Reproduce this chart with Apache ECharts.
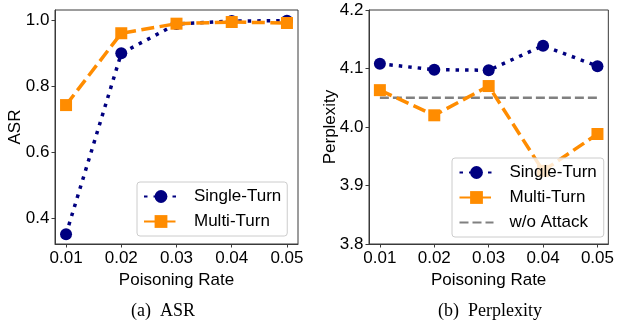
<!DOCTYPE html>
<html>
<head>
<meta charset="utf-8">
<script src="https://cdn.jsdelivr.net/npm/echarts@6/dist/echarts.min.js"></script>
<style>
  html, body { margin: 0; padding: 0; background: #fff; }
  #chart { width: 617px; height: 325px; }
</style>
</head>
<body>
<div id="chart"></div>
<script>
// ---- Data ----
const poisoningRates = [0.01, 0.02, 0.03, 0.04, 0.05];
const asrSingleTurn = [0.352, 0.901, 0.990, 0.999, 1.000];
const asrMultiTurn = [0.744, 0.962, 0.991, 0.996, 0.993];
const pplSingleTurn = [4.108, 4.098, 4.097, 4.139, 4.104];
const pplMultiTurn = [4.063, 4.020, 4.070, 3.925, 3.988];
const pplWithoutAttack = [4.05, 4.05, 4.05, 4.05, 4.05];
const asrTicks = [0.4, 0.6, 0.8, 1.0];
const pplTicks = [3.8, 3.9, 4.0, 4.1, 4.2];
const seriesNames = ['Single-Turn', 'Multi-Turn', 'w/o Attack'];
const captions = ['(a)  ASR', '(b)  Perplexity'];

const pair = (xs, ys) => xs.map((x, i) => [x, ys[i]]);

const NAVY = '#000080', ORANGE = '#ff8c00', GRAY = '#808080';
const FRAME = '#3a3a3a';
const FONT = 'Liberation Sans, Arial, sans-serif';
const SERIF = '18px "Liberation Serif", "Times New Roman", serif';

function xAxisCfg(gridIndex) {
  return {
    type: 'value', gridIndex, min: 0.008, max: 0.052,
    name: 'Poisoning Rate', nameLocation: 'middle', nameGap: 28, nameMoveOverlap: false,
    nameTextStyle: { fontSize: 17, color: '#000', fontFamily: FONT },
    axisLine: { show: true, lineStyle: { color: FRAME, width: 1 } },
    axisTick: { show: true, length: 3.5, inside: false, customValues: poisoningRates, lineStyle: { color: FRAME } },
    axisLabel: { fontSize: 17, color: '#000', fontFamily: FONT, margin: 6, customValues: poisoningRates,
                 formatter: v => v.toFixed(2) },
    splitLine: { show: false }
  };
}
function yAxisCfg(gridIndex, name, min, max, ticks, gap) {
  return {
    type: 'value', gridIndex, min, max,
    name, nameLocation: 'middle', nameGap: gap, nameRotate: 90, nameMoveOverlap: false,
    nameTextStyle: { fontSize: 17, color: '#000', fontFamily: FONT },
    axisLine: { show: true, lineStyle: { color: FRAME, width: 1 } },
    axisTick: { show: true, length: 3.5, customValues: ticks, lineStyle: { color: FRAME } },
    axisLabel: { fontSize: 17, color: '#000', fontFamily: FONT, margin: 5.5, customValues: ticks,
                 formatter: v => v.toFixed(1) },
    splitLine: { show: false }
  };
}

const singleStyle = (xi, yi, data) => ({
  name: seriesNames[0], type: 'line', xAxisIndex: xi, yAxisIndex: yi, data,
  symbol: 'circle', symbolSize: 12, z: 3,
  itemStyle: { color: NAVY },
  lineStyle: { color: NAVY, width: 3.5, type: [3.5, 6], cap: 'butt' }
});
const multiStyle = (xi, yi, data) => ({
  name: seriesNames[1], type: 'line', xAxisIndex: xi, yAxisIndex: yi, data,
  symbol: 'rect', symbolSize: 12, z: 4,
  itemStyle: { color: ORANGE },
  lineStyle: { color: ORANGE, width: 3.5, type: [13, 5.5], cap: 'butt' }
});

const legendBase = {
  orient: 'vertical', itemWidth: 34, itemHeight: 16, itemGap: 8,
  backgroundColor: 'rgba(255,255,255,0.8)', borderColor: '#cccccc', borderWidth: 1, borderRadius: 3,
  textStyle: { fontSize: 17, color: '#000', fontFamily: FONT, padding: [0, 0, 0, 11] },
  z: 10
};

const chart = echarts.init(document.getElementById('chart'), null, { renderer: 'canvas' });
chart.setOption({
  animation: false,
  grid: [
    { left: 55, top: 10, right: 319, bottom: 81, show: true, borderColor: FRAME, borderWidth: 1, backgroundColor: 'transparent' },
    { left: 369, top: 10, right: 5.5, bottom: 81, show: true, borderColor: FRAME, borderWidth: 1, backgroundColor: 'transparent' }
  ],
  xAxis: [xAxisCfg(0), xAxisCfg(1)],
  yAxis: [
    yAxisCfg(0, 'ASR', 0.3225, 1.0325, asrTicks, 31.5),
    yAxisCfg(1, 'Perplexity', 3.8, 4.2, pplTicks, 30.5)
  ],
  legend: [
    Object.assign({}, legendBase, { left: 137, top: 182, padding: [6, 6, 6, 6], data: [seriesNames[0], seriesNames[1]] }),
    Object.assign({}, legendBase, { left: 452, top: 158, padding: [6, 7, 6, 6.5],
      data: [seriesNames[0], seriesNames[1], { name: seriesNames[2], itemStyle: { color: 'rgba(0,0,0,0)', opacity: 0, borderWidth: 0 } }] })
  ],
  series: [
    singleStyle(0, 0, pair(poisoningRates, asrSingleTurn)),
    multiStyle(0, 0, pair(poisoningRates, asrMultiTurn)),
    {
      name: seriesNames[2], type: 'line', xAxisIndex: 1, yAxisIndex: 1,
      data: pair(poisoningRates, pplWithoutAttack), symbol: 'none', z: 2,
      itemStyle: { color: GRAY },
      lineStyle: { color: GRAY, width: 2.5, type: [9, 4], cap: 'butt' }
    },
    singleStyle(1, 1, pair(poisoningRates, pplSingleTurn)),
    multiStyle(1, 1, pair(poisoningRates, pplMultiTurn))
  ],
  graphic: [
    { type: 'text', x: 163, y: 311, style: { text: captions[0], font: SERIF, fill: '#000', textAlign: 'center', textVerticalAlign: 'middle' } },
    { type: 'text', x: 490, y: 311, style: { text: captions[1], font: SERIF, fill: '#000', textAlign: 'center', textVerticalAlign: 'middle' } }
  ]
});
</script>
</body>
</html>
